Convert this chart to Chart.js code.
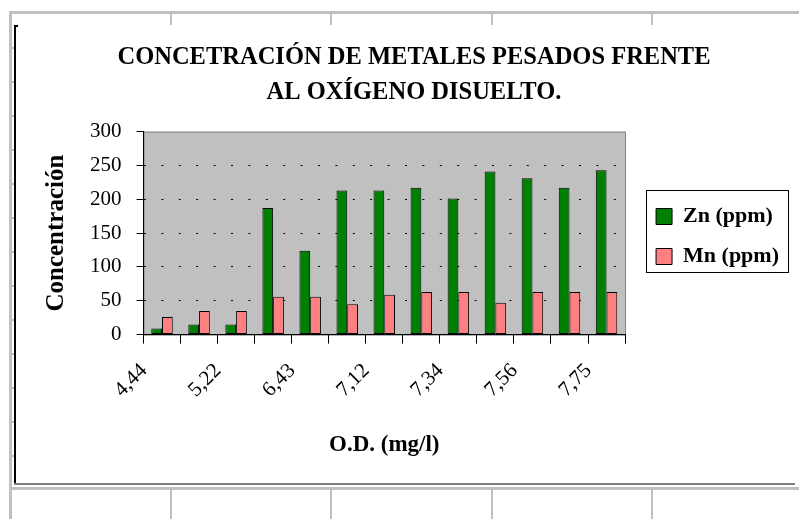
<!DOCTYPE html>
<html>
<head>
<meta charset="utf-8">
<title>Concentración de metales pesados</title>
<script src="https://cdn.jsdelivr.net/npm/chart.js@4.4.1/dist/chart.umd.min.js"></script>
<style>
  html, body { margin: 0; padding: 0; background: #fff; }
</style>
</head>
<body>
<canvas id="myChart" width="799" height="519"></canvas>
<script>
// O.D. (mg/l) categories - only every other label is printed on the axis
var odLabels = ['4,44', '', '5,22', '', '6,43', '', '7,12', '', '7,34', '', '7,56', '', '7,75'];
var znValues = [9, 15, 15, 187, 124, 213, 213, 217, 201, 241, 231, 217, 243];
var mnValues = [26, 35, 35, 56, 56, 45, 59, 63, 63, 47, 63, 63, 63];
var yTicks = [0, 50, 100, 150, 200, 250, 300];

var serif = "'Liberation Serif', 'Times New Roman', serif";

// spreadsheet cells, chart frame and grey plot area behind everything
var sheetBackground = {
  id: 'sheetBackground',
  beforeDraw: function(chart) {
    var ctx = chart.ctx, a = chart.chartArea;
    var w = chart.width, h = chart.height;
    ctx.save();
    ctx.fillStyle = '#ffffff';
    ctx.fillRect(0, 0, w, h);

    ctx.fillStyle = '#c0c0c0';
    ctx.fillRect(9, 11, w - 9, 3);
    ctx.fillRect(9, 11, 3, h - 11);
    ctx.fillRect(9, 487, w - 9, 3);
    [170, 330, 491, 651].forEach(function(x) {
      ctx.fillRect(x, 14, 2, 11);
      ctx.fillRect(x, 490, 2, h - 490);
    });
    for (var y = 47; y < 480; y += 34) {
      ctx.fillRect(12, y, 3, 2);
    }

    ctx.fillStyle = '#000000';
    ctx.fillRect(14, 25, 2, 459);
    ctx.fillRect(14, 25, 4, 2);
    ctx.fillStyle = '#808080';
    ctx.fillRect(14, 483, 781, 2);

    ctx.fillStyle = '#c0c0c0';
    ctx.fillRect(a.left, a.top, a.width, a.height);
    ctx.strokeStyle = '#808080';
    ctx.lineWidth = 1;
    ctx.strokeRect(a.left + 0.5, a.top + 0.5, a.width, a.height);
    ctx.restore();
  },
  afterDraw: function(chart) {
    // frame round the legend
    var hb = chart.legend.legendHitBoxes;
    if (!hb || !hb.length) return;
    var l = Math.min.apply(null, hb.map(function(b) { return b.left; })) - 10;
    var r = Math.max.apply(null, hb.map(function(b) { return b.left + b.width; })) + 9;
    var t = hb[0].top - 16;
    var b = hb[hb.length - 1].top + hb[hb.length - 1].height + 4;
    var ctx = chart.ctx;
    ctx.save();
    ctx.strokeStyle = '#000000';
    ctx.lineWidth = 1;
    ctx.strokeRect(Math.round(l) + 0.5, Math.round(t) + 0.5, Math.round(r - l), Math.round(b - t));
    ctx.restore();
  }
};

new Chart('myChart', {
  type: 'bar',
  data: {
    labels: odLabels,
    datasets: [{
      label: 'Zn (ppm)',
      data: znValues,
      backgroundColor: '#008000',
      borderColor: '#000000',
      borderWidth: 1,
      borderSkipped: false
    }, {
      label: 'Mn (ppm)',
      data: mnValues,
      backgroundColor: '#ff8080',
      borderColor: '#000000',
      borderWidth: 1,
      borderSkipped: false
    }]
  },
  options: {
    responsive: false,
    animation: false,
    devicePixelRatio: 1,
    categoryPercentage: 0.58,
    barPercentage: 1,
    layout: { padding: { left: 39, top: 10, right: 10, bottom: 56 } },
    plugins: {
      title: {
        display: true,
        text: ['CONCETRACIÓN DE METALES PESADOS FRENTE', 'AL OXÍGENO DISUELTO.'],
        color: '#000000',
        font: { family: serif, size: 24.5, weight: 'bold', lineHeight: 1.4 },
        padding: { top: 31, bottom: 22 }
      },
      legend: {
        position: 'right',
        maxWidth: 220,
        labels: {
          color: '#000000',
          boxWidth: 16,
          boxHeight: 16,
          padding: 18,
          font: { family: serif, size: 22, weight: 'bold' }
        }
      },
      tooltip: { enabled: false }
    },
    scales: {
      x: {
        grid: {
          offset: true,
          drawOnChartArea: false,
          tickLength: 9,
          tickColor: '#000000'
        },
        border: { color: '#000000', width: 1 },
        ticks: {
          autoSkip: false,
          minRotation: 45,
          maxRotation: 45,
          labelOffset: -18,
          padding: 15,
          color: '#000000',
          font: { family: serif, size: 21 }
        },
        title: {
          display: true,
          text: 'O.D. (mg/l)',
          color: '#000000',
          font: { family: serif, size: 23, weight: 'bold' },
          padding: { top: 14, bottom: 4 }
        }
      },
      y: {
        min: 0,
        max: 300,
        afterBuildTicks: function(scale) {
          scale.ticks = yTicks.map(function(v) { return { value: v }; });
        },
        grid: {
          color: function(c) {
            var v = c.tick ? c.tick.value : 0;
            return (v === 0 || v === 300) ? 'rgba(0,0,0,0)' : '#000000';
          },
          tickColor: '#000000',
          tickLength: 7
        },
        border: { color: '#000000', width: 1, dash: [2, 15.4] },
        ticks: {
          padding: 15,
          color: '#000000',
          font: { family: serif, size: 21 }
        },
        title: {
          display: true,
          text: 'Concentración',
          color: '#000000',
          font: { family: serif, size: 25, weight: 'bold' },
          padding: { top: 3, bottom: 3 }
        }
      },
      gap: {
        type: 'linear',
        position: 'right',
        display: true,
        grid: { display: false },
        border: { display: false },
        ticks: { display: false },
        afterFit: function(scale) { scale.width = 13; }
      }
    }
  },
  plugins: [sheetBackground]
});
</script>
</body>
</html>
